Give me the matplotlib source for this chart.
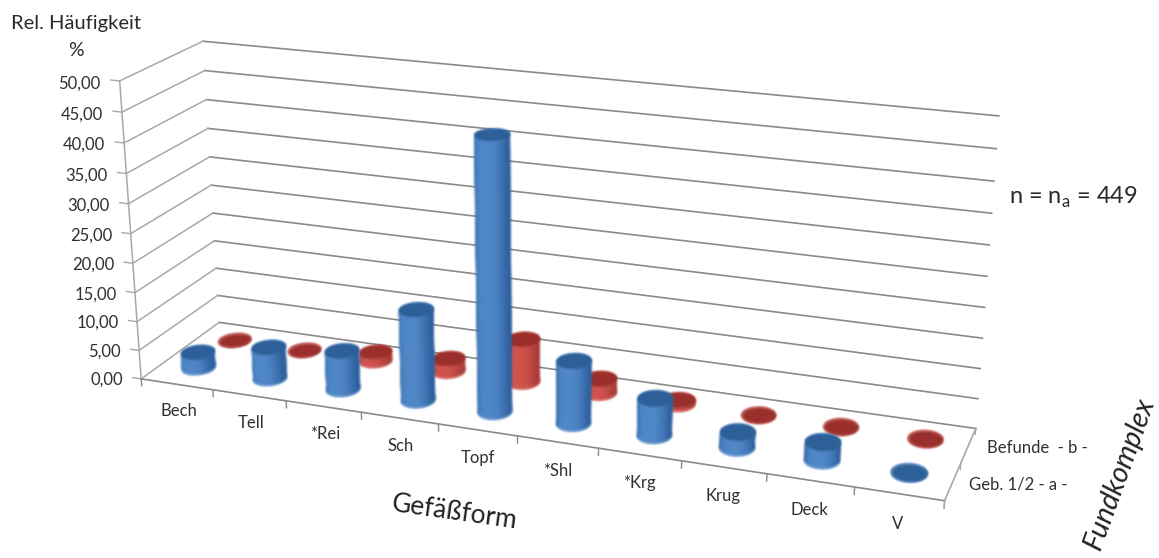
import numpy as np
import matplotlib
matplotlib.use("Agg")
import matplotlib.pyplot as plt
from mpl_toolkits.mplot3d.art3d import Poly3DCollection

W, H = 1159, 558

categories = ["Bech", "Tell", "*Rei", "Sch", "Topf", "*Shl", "*Krg", "Krug", "Deck", "V"]
series_names = ["Geb. 1/2 - a -", "Befunde  - b -"]
values_a = [2.8, 5.5, 6.7, 15.5, 45.3, 10.5, 6.2, 2.6, 3.0, 0.1]
values_b = [0.1, 0.1, 1.6, 2.3, 7.5, 2.5, 0.7, 0.1, 0.1, 0.1]
z_ticks = [0, 5, 10, 15, 20, 25, 30, 35, 40, 45, 50]

plt.rcParams["font.family"] = ["Lato", "DejaVu Sans"]
plt.rcParams["mathtext.fontset"] = "custom"
plt.rcParams["mathtext.rm"] = "Lato"

# camera calibration: where the chart box sits in the picture (world -> pixel)
calib_world = [(-0.5 + i, -0.5, 0) for i in range(11)]
calib_pixel = [(142, 377), (214, 390), (286, 400), (362, 413), (439, 425), (517, 437),
               (599, 449), (682, 462), (766, 475), (854, 488), (944, 499)]
for z, p in zip(z_ticks, [(219, 322), (218, 295), (216, 268), (214, 241), (212, 214), (211, 186),
                          (210, 157), (208, 128), (207, 100), (204, 71), (203, 42)]):
    calib_world.append((-0.5, 1.5, z))
    calib_pixel.append(p)
for z, p in zip(z_ticks, [(975, 428), (979, 398), (980, 368), (983, 338), (985, 307), (987, 276),
                          (989, 245), (992, 213), (994, 181), (997, 149), (998, 116)]):
    calib_world.append((9.5, 1.5, z))
    calib_pixel.append(p)
calib_world += [(-0.5, -0.5, 25), (-0.5, -0.5, 50)]
calib_pixel += [(128, 232), (121, 80)]


def fit_camera(world, pixel):
    rows = []
    for (x, y, z), (u, v) in zip(world, pixel):
        rows.append([x, y, z / 10, 1, 0, 0, 0, 0, -u * x, -u * y, -u * z / 10, -u])
        rows.append([0, 0, 0, 0, x, y, z / 10, 1, -v * x, -v * y, -v * z / 10, -v])
    rows = np.array(rows, dtype=float)
    scale = np.abs(rows).max(axis=0)
    _, _, vt = np.linalg.svd(rows / scale)
    p = (vt[-1] / scale).reshape(3, 4)
    p[:, 2] /= 10
    return p / p[2, 3]


camera = fit_camera(calib_world, calib_pixel)

fig = plt.figure(figsize=(W / 100, H / 100), dpi=100)
ax = fig.add_axes([0, 0, 1, 1], projection="3d")
ax.set_axis_off()
ax.set_proj_type("ortho")  # no clipping of lines in get_proj's view space
ax.computed_zorder = False
ax.apply_aspect = lambda position=None: None


def get_proj():
    # pixel coordinates -> the axes' 2d view coordinates
    inv = ax.transData.inverted()
    (x0, y0), (x1, y1) = inv.transform([(0, H), (W, 0)])
    t = np.array([[(x1 - x0) / W, 0, x0], [0, (y1 - y0) / H, y0], [0, 0, 1]])
    m = t @ camera
    return np.array([m[0], m[1], [0, 1, 0, 0], m[2]])


def label_at(x, y, z, s, **kw):
    # same camera, but as a plain figure text
    u, v, w = camera @ np.array([x, y, z, 1.0])
    fig.text(u / w / W, 1 - v / w / H, s, va="center", fontsize=12, color=text_color, **kw)


def soften(img, dpi):
    # small blur over a cylinder, the reference is a soft jpeg
    pad = 2
    img = np.pad(img, ((pad, pad), (pad, pad), (0, 0)))
    img[..., :3] *= img[..., 3:]
    for axis in (0, 1):
        img = 0.25 * np.roll(img, 1, axis) + 0.5 * img + 0.25 * np.roll(img, -1, axis)
    alpha = np.maximum(img[..., 3:], 1e-6)
    img[..., :3] = np.clip(img[..., :3] / alpha, 0, 1)
    return img, -pad, -pad


ax.get_proj = get_proj
ax.set_xlim(-0.5, 9.5)
ax.set_ylim(-0.5, 1.5)
ax.set_zlim(0, 50)
ax.set_xticks([])
ax.set_yticks([])
ax.set_zticks([])

grid_back = "#8a8a8a"
grid_side = "#a8a8a8"
text_color = "#303030"

# gridlines on back wall and left wall
for z in z_ticks:
    ax.plot([-0.5, 9.5], [1.5, 1.5], [z, z], color=grid_back, lw=1.2, zorder=1)
    ax.plot([-0.5, -0.5], [-0.5, 1.5], [z, z], color=grid_side, lw=1.1, zorder=1)
    ax.plot([-0.5, -0.62], [-0.5, -0.5], [z, z], color=grid_side, lw=1.0, zorder=1)
    label_at(-0.76, -0.5, z - 0.7, f"{z:.2f}".replace(".", ","), ha="right")

# box edges and ticks
ax.plot([-0.5, -0.5], [-0.5, -0.5], [0, 50], color=grid_side, lw=1.1, zorder=1)
ax.plot([-0.5, 9.5], [-0.5, -0.5], [0, 0], color=grid_back, lw=1.2, zorder=1)
ax.plot([9.5, 9.5], [-0.5, 1.5], [0, 0], color=grid_side, lw=1.2, zorder=1)
for i in range(11):
    ax.plot([i - 0.5, i - 0.5], [-0.5, -0.5], [0, -1.2], color=grid_back, lw=1.0, zorder=1)
for s in [-0.5, 0.5, 1.5]:
    ax.plot([9.5, 9.5], [s, s], [0, -1.0], color=grid_side, lw=1.0, zorder=1)

for i, name in enumerate(categories):
    label_at(i, -0.5, -4.8, name, ha="center")
for s, name in enumerate(series_names):
    label_at(9.68 + 0.04 * s, s, 0, name, ha="left")


def mix(c0, c1, t):
    return tuple(np.array(matplotlib.colors.to_rgb(c0)) * (1 - t)
                 + np.array(matplotlib.colors.to_rgb(c1)) * t)


def cylinder(x, y, h, center, edge, cap, rim, zorder, rx=0.195, ry=0.225, n=40):
    # full turn for the silhouette, faces sorted back to front by the collection
    th = np.linspace(0, 2 * np.pi, n + 1)
    px = x + rx * np.cos(th)
    py = y + ry * np.sin(th)
    z_rim = min(h, 0.12)
    rim_verts, rim_cols, body_verts, body_cols = [], [], [], []
    for k in range(n):
        t = abs(np.cos((th[k] + th[k + 1]) / 2)) ** 3
        body = mix(center, edge, t)
        body_verts.append([(px[k], py[k], z_rim), (px[k + 1], py[k + 1], z_rim),
                           (px[k + 1], py[k + 1], h), (px[k], py[k], h)])
        body_cols.append(body)
        rim_verts.append([(px[k], py[k], 0), (px[k + 1], py[k + 1], 0),
                          (px[k + 1], py[k + 1], z_rim), (px[k], py[k], z_rim)])
        rim_cols.append(mix(rim, body, 0.5))
    for verts, cols, dz in [(rim_verts, rim_cols, 0), (body_verts, body_cols, 0.1)]:
        coll = Poly3DCollection(verts, facecolors=cols, edgecolors=cols, linewidths=0.8,
                                zorder=zorder + dz)
        coll.set_snap(False)
        coll.set_agg_filter(soften)
        ax.add_collection3d(coll)
    top = Poly3DCollection([list(zip(px, py, np.full_like(px, h)))], facecolors=cap,
                           edgecolors=cap, linewidths=0.4, zorder=zorder + 0.2)
    top.set_agg_filter(soften)
    ax.add_collection3d(top)


for i, v in enumerate(values_b):
    cylinder(i, 1, v, "#d2524c", "#a83c38", "#9a2f2b", "#f0a8a0", 2 + i * 0.01)
for i, v in enumerate(values_a):
    cylinder(i, 0.05, v, "#4f87c8", "#2f619f", "#2d6098", "#8cc0ee", 3 + i * 0.01)

fig.text(11 / W, 1 - 23 / H, "Rel. Häufigkeit", fontsize=14.5, color="#2a2a2a", va="center")
fig.text(76 / W, 1 - 50 / H, "%", fontsize=14, color="#2a2a2a", va="center", ha="center")
fig.text(1009 / W, 1 - 197 / H, r"n = n$_{\mathrm{a}}$ = 449", fontsize=17, color="#2a2a2a", va="center")
fig.text(454 / W, 1 - 512 / H, "Gefäßform", fontsize=19, color="#222222", rotation=-8,
         ha="center", va="center")
fig.text(1120 / W, 1 - 474 / H, "Fundkomplex", fontsize=20.5, color="#222222", rotation=70,
         ha="center", va="center", style="italic")

fig.savefig("out.png", dpi=100)
